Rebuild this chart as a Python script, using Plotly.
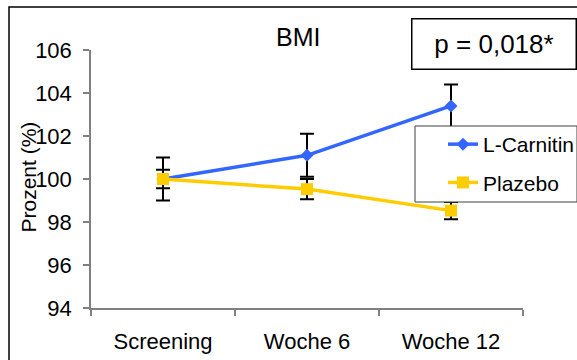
import plotly.graph_objects as go

categories = ["Screening", "Woche 6", "Woche 12"]
carnitin = [100.0, 101.1, 103.4]
carnitin_err = [1.0, 1.0, 1.0]
plazebo = [100.0, 99.53, 98.53]
plazebo_err = [0.43, 0.47, 0.4]
y_ticks = [94, 96, 98, 100, 102, 104, 106]

FONT = "Liberation Sans, Arial, sans-serif"
BLUE = "#3366FF"
YELLOW = "#FFCC00"

fig = go.Figure()
fig.add_trace(go.Scatter(
    x=categories, y=carnitin, name="L-Carnitin", mode="lines+markers",
    legendgroup="a",
    line=dict(color=BLUE, width=3.5),
    marker=dict(symbol="diamond", size=10, color=BLUE),
    error_y=dict(type="data", array=carnitin_err, color="black", thickness=2, width=7),
))
fig.add_trace(go.Scatter(
    x=categories, y=plazebo, name="Plazebo", mode="lines+markers",
    legendgroup="b",
    line=dict(color=YELLOW, width=3.5),
    marker=dict(symbol="square", size=12, color=YELLOW),
    error_y=dict(type="data", array=plazebo_err, color="black", thickness=2, width=7),
))

L, T, R, B = 91, 50, 54, 52
W, H = 577, 360
pw, ph = W - L - R, H - T - B

def px(x):
    return (x - L) / pw

def py(y):
    return (H - B - y) / ph

fig.update_layout(
    width=W, height=H,
    margin=dict(l=L, r=R, t=T, b=B, autoexpand=False),
    paper_bgcolor="white", plot_bgcolor="white",
    font=dict(family=FONT, size=22, color="black"),
    showlegend=True,
    legend=dict(
        x=px(443), y=py(124), xanchor="left", yanchor="top",
        bgcolor="rgba(0,0,0,0)", borderwidth=0,
        font=dict(size=21), traceorder="grouped", tracegroupgap=8,
    ),
    xaxis=dict(
        type="category", range=[-0.5, 2.5], showgrid=False, automargin=False,
        showline=True, linecolor="#808080", linewidth=1.5,
        ticks="outside", tickson="boundaries", ticklen=6, tickcolor="#808080", tickwidth=1.5,
        ticklabelstandoff=13, zeroline=False,
    ),
    yaxis=dict(
        range=[94, 106], tickvals=y_ticks, showgrid=False, automargin=False,
        showline=True, linecolor="#808080", linewidth=1.5,
        ticks="outside", ticklen=6, tickcolor="#808080", tickwidth=1.5,
        ticklabelstandoff=7, zeroline=False,
    ),
    shapes=[
        dict(type="rect", xref="paper", yref="paper",
             x0=px(9), x1=px(620), y0=py(400), y1=py(7),
             line=dict(color="black", width=1.5), fillcolor="rgba(0,0,0,0)", layer="below"),
        dict(type="rect", xref="paper", yref="paper",
             x0=px(415), x1=px(577), y0=py(202), y1=py(126),
             line=dict(color="#404040", width=1), fillcolor="white", layer="above"),
    ],
    annotations=[
        dict(text="BMI", xref="paper", yref="paper", x=px(298), y=py(37),
             xanchor="center", yanchor="middle", showarrow=False, font=dict(size=25)),
        dict(text="p = 0,018*", xref="paper", yref="paper", x=px(493.5), y=py(44.5),
             xanchor="center", yanchor="middle", showarrow=False, font=dict(size=26),
             width=163, height=49, borderpad=0, bordercolor="black", borderwidth=1.5,
             bgcolor="white"),
        dict(text="Prozent (%)", xref="paper", yref="paper", x=px(28), y=py(176.5),
             xanchor="center", yanchor="middle", textangle=-90, showarrow=False,
             font=dict(size=21)),
    ],
)

fig.write_html("out.html")
